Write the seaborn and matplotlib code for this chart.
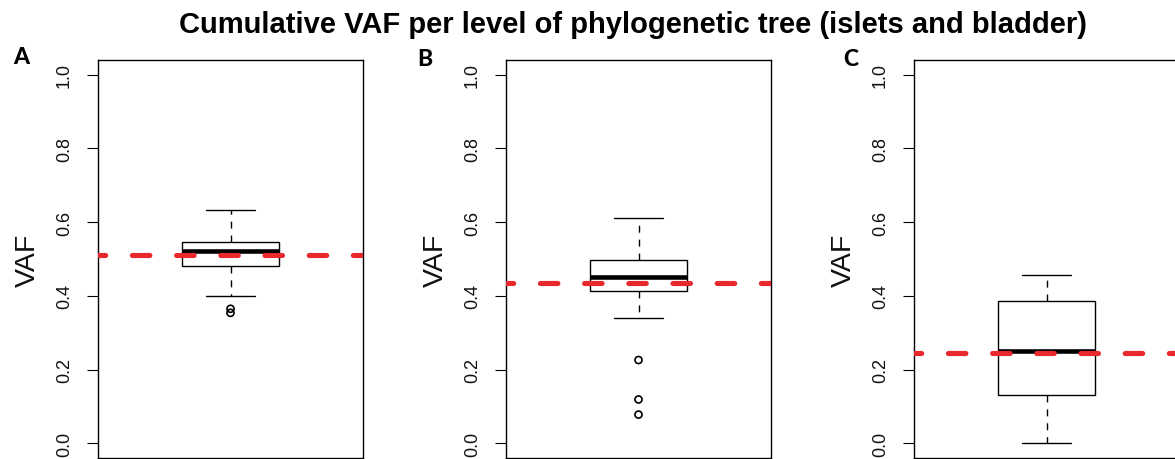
import numpy as np
import pandas as pd
import matplotlib
matplotlib.use("Agg")
import matplotlib.pyplot as plt
import seaborn as sns

# ---- data ----
panel_letters = ["A", "B", "C"]
whisker_low = [0.400, 0.340, 0.000]
quartile_1 = [0.481, 0.412, 0.131]
median_vaf = [0.522, 0.450, 0.250]
quartile_3 = [0.547, 0.498, 0.385]
whisker_high = [0.633, 0.610, 0.457]
outliers_a = [0.365, 0.354]
outliers_b = [0.226, 0.119, 0.078]
outliers_c = []
red_line_vaf = [0.510, 0.435, 0.245]
y_ticks = [0.0, 0.2, 0.4, 0.6, 0.8, 1.0]
y_tick_labels = ["0.0", "0.2", "0.4", "0.6", "0.8", "1.0"]
y_label = "VAF"
title = "Cumulative VAF per level of phylogenetic tree (islets and bladder)"

outliers = [outliers_a, outliers_b, outliers_c]

sns.set_style("white")
plt.rcParams["font.family"] = ["Liberation Sans", "DejaVu Sans"]

fig = plt.figure(figsize=(11.75, 4.6), dpi=100)

lefts = [98 / 1175, 506 / 1175, 914 / 1175]
ax_w = 265 / 1175
ax_b = 0.002
ax_h = (460 - 61) / 460 - ax_b

red = "#e8282c"

for i, letter in enumerate(panel_letters):
    ax = fig.add_axes([lefts[i], ax_b, ax_w, ax_h])
    df = pd.DataFrame({
        "VAF": [whisker_low[i], quartile_1[i], median_vaf[i], quartile_3[i], whisker_high[i]]
    })
    sns.boxplot(
        data=df, y="VAF", ax=ax, whis=np.inf, width=0.8,
        color="white", linecolor="black", linewidth=1.0, showfliers=False,
        medianprops=dict(linewidth=3.3, color="black", solid_capstyle="butt"),
        whiskerprops=dict(linestyle=(0, (5, 5)), linewidth=1.0),
        capprops=dict(linewidth=1.0),
        boxprops=dict(linewidth=1.0),
    )
    if len(outliers[i]):
        sns.scatterplot(
            x=np.zeros(len(outliers[i])), y=outliers[i], ax=ax,
            marker="o", s=26, facecolors="none", edgecolors="black",
            linewidths=1.2, zorder=5, legend=False,
        )
    ax.axhline(red_line_vaf[i], color=red, linewidth=3.7,
               linestyle=(2.0, (3.4, 5.2)), dash_capstyle="round", zorder=6)

    ax.set_xlim(-1.082, 1.082)
    ax.set_ylim(-0.04, 1.04)
    ax.set_xticks([])
    ax.set_xlabel("")
    ax.set_yticks(y_ticks)
    ax.set_yticklabels(y_tick_labels, rotation=90, va="center", fontsize=13)
    ax.tick_params(axis="y", direction="out", length=8, width=0.8,
                   pad=10, left=True, colors="black", labelcolor="#111111")
    ax.set_ylabel(y_label, fontsize=20.5, color="#111111")
    ax.yaxis.set_label_coords((41 - 98) / 265, 0.5)
    for sp in ax.spines.values():
        sp.set_visible(True)
        sp.set_color("black")
        sp.set_linewidth(1.0)

# panel letters
letter_pos = [(21, 57), (425, 60), (851, 59)]
for letter, (px, py) in zip(panel_letters, letter_pos):
    fig.text(px / 1175, 1 - py / 460, letter, fontsize=16.5, fontweight="black",
             family=["Lato", "DejaVu Sans"], ha="center", va="center", color="black")

fig.text(633 / 1175, 1 - 25 / 460, title, fontsize=21, fontweight="bold",
         ha="center", va="center", color="black")

fig.savefig("out.png", dpi=100, facecolor="white")
